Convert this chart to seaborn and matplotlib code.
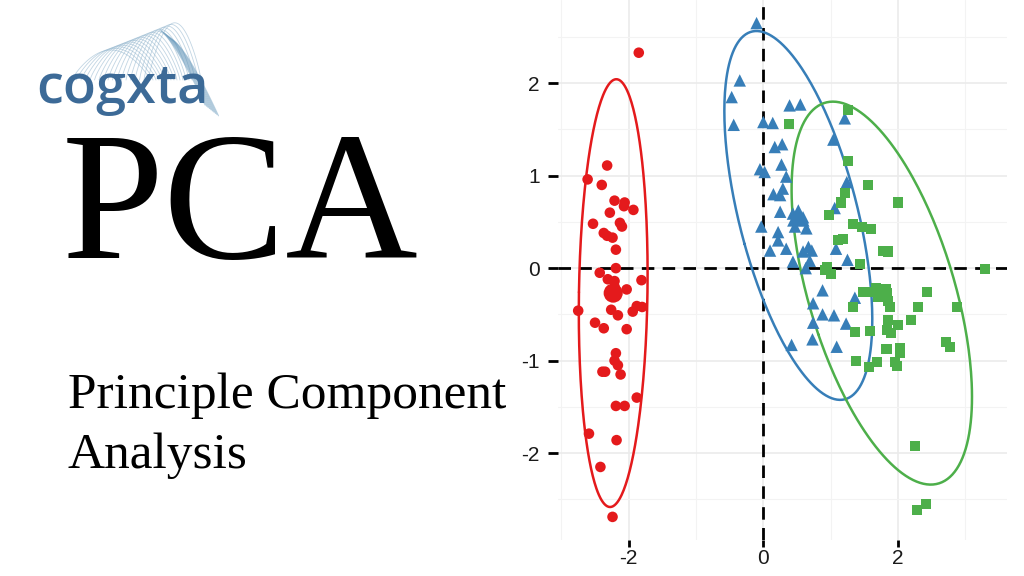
import numpy as np
import pandas as pd
import seaborn as sns
import matplotlib.pyplot as plt

# individuals on the first two principal components
red_x = [-1.85, -2.32, -2.61, -2.40, -2.21, -2.06, -2.07, -1.93, -2.28, -2.53,
         -2.13, -2.10, -2.37, -2.32, -2.24, -2.19, -2.19, -2.43, -1.81, -2.31,
         -2.21, -2.21, -2.03, -2.26, -2.20, -2.75, -2.26, -2.16, -1.94, -1.88,
         -1.80, -2.50, -2.37, -2.03, -2.19, -2.21, -2.16, -2.39, -2.35, -2.12,
         -1.88, -2.19, -2.06, -2.59, -2.18, -2.42, -2.24]
red_y = [2.33, 1.11, 0.96, 0.90, 0.73, 0.71, 0.67, 0.63, 0.60, 0.48,
         0.49, 0.45, 0.38, 0.35, 0.33, 0.20, 0.00, -0.05, -0.13, -0.12,
         -0.14, -0.20, -0.23, -0.27, -0.25, -0.46, -0.45, -0.51, -0.47, -0.41,
         -0.42, -0.59, -0.65, -0.66, -0.92, -1.00, -1.05, -1.12, -1.12, -1.15,
         -1.40, -1.49, -1.49, -1.79, -1.86, -2.15, -2.69]

blue_x = [-0.10, -0.35, -0.47, -0.44, 0.00, 0.14, 0.39, 0.55, 1.21, 1.04,
          0.17, 0.28, 0.27, -0.05, 0.02, 0.34, 1.24, 0.15, 0.25, 0.29,
          0.25, 0.44, 0.59, 0.54, 0.47, 0.64, 1.06, -0.03, 0.22, 0.22,
          0.10, 0.34, 0.59, 0.67, 0.72, 1.08, 0.44, 0.69, 0.63, 1.25,
          0.88, 0.74, 1.36, 0.88, 1.05, 0.74, 1.23, 0.73, 0.42, 1.09]
blue_y = [2.65, 2.03, 1.85, 1.55, 1.58, 1.57, 1.76, 1.77, 1.62, 1.39,
          1.31, 1.34, 1.12, 1.07, 1.04, 0.99, 0.93, 0.80, 0.79, 0.86,
          0.61, 0.59, 0.55, 0.52, 0.45, 0.43, 0.65, 0.45, 0.39, 0.30,
          0.19, 0.21, 0.18, 0.23, 0.19, 0.21, 0.07, 0.08, 0.00, 0.09,
          -0.24, -0.38, -0.32, -0.50, -0.51, -0.59, -0.60, -0.77, -0.83, -0.85]

green_x = [1.26, 0.38, 1.26, 1.56, 1.21, 1.16, 2.00, 0.98, 1.33, 1.46,
           1.60, 1.11, 1.18, 1.78, 1.85, 1.43, 0.95, 1.01, 0.91, 3.29,
           1.48, 1.61, 1.68, 1.83, 1.73, 1.85, 1.88, 2.43, 1.33, 2.30,
           2.88, 1.85, 2.00, 2.20, 1.36, 1.58, 1.84, 1.89, 2.72, 2.78,
           1.83, 2.03, 2.03, 1.37, 1.69, 1.57, 1.95, 1.98, 2.25, 2.29, 2.42]
green_y = [1.71, 1.56, 1.16, 0.90, 0.81, 0.71, 0.71, 0.57, 0.48, 0.44,
           0.42, 0.30, 0.32, 0.19, 0.18, 0.04, 0.01, -0.06, -0.02, -0.01,
           -0.26, -0.26, -0.22, -0.27, -0.31, -0.36, -0.42, -0.26, -0.42, -0.42,
           -0.42, -0.56, -0.61, -0.56, -0.69, -0.68, -0.67, -0.70, -0.80, -0.85,
           -0.87, -0.86, -0.92, -1.00, -1.01, -1.07, -1.01, -1.06, -1.92, -2.62, -2.55]

# group centres (the large markers)
groups = ['1', '2', '3']
mean_x = [-2.23, 0.52, 1.76]
mean_y = [-0.27, 0.57, -0.27]

palette = {'1': '#E41A1C', '2': '#377EB8', '3': '#4DAF4A'}
markers = {'1': 'o', '2': '^', '3': 's'}
point_sizes = {'1': 58, '2': 80, '3': 52}
centre_sizes = {'1': 190, '2': 260, '3': 170}

df = pd.DataFrame({
    'Dim1': red_x + blue_x + green_x,
    'Dim2': red_y + blue_y + green_y,
    'group': ['1'] * len(red_x) + ['2'] * len(blue_x) + ['3'] * len(green_x),
})
centres = pd.DataFrame({'Dim1': mean_x, 'Dim2': mean_y, 'group': groups})

sns.set_theme(style='white')
plt.rcParams['font.family'] = ['Liberation Sans', 'DejaVu Sans']
plt.rcParams['axes.unicode_minus'] = False

fig = plt.figure(figsize=(10.24, 5.76), dpi=100)

# ---- left side: logo and title ----
deco = fig.add_axes([0, 0, 1, 1])
deco.set_xlim(0, 1024)
deco.set_ylim(576, 0)
deco.axis('off')
t = np.linspace(0, 1, 60)
for k in range(18):
    x0 = 72 + k * 4.5
    x1 = 150 + k * 3.0
    h = 30 + k * 1.6
    xs = x0 + (x1 - x0) * t
    ys = 80 - h * np.sin(np.pi * t) ** 0.8
    deco.plot(xs, ys, color='#8fb3cc', lw=0.6, alpha=0.55)
for k in range(10):
    xs = 160 + k * 1.5 + 45 * t
    ys = 30 + k * 1.2 + 75 * t ** 1.3
    deco.plot(xs, ys, color='#6a9bbd', lw=0.8, alpha=0.45)
fig.text(36 / 1024, 1 - 103 / 576, 'cogxta', fontsize=39, color='#3c6a97',
         family=['Open Sans', 'DejaVu Sans'], weight='semibold',
         va='baseline', ha='left')
fig.text(62 / 1024, 1 - 258 / 576, 'PCA', fontsize=132, color='black',
         family=['Liberation Serif', 'DejaVu Serif'], va='baseline', ha='left')
fig.text(68 / 1024, 1 - 408 / 576, 'Principle Component', fontsize=37,
         color='black', family=['Liberation Serif', 'DejaVu Serif'],
         va='baseline', ha='left')
fig.text(68 / 1024, 1 - 468 / 576, 'Analysis', fontsize=37, color='black',
         family=['Liberation Serif', 'DejaVu Serif'], va='baseline', ha='left')

# ---- right side: individuals plot ----
ax = fig.add_axes([558 / 1024, 36 / 576, 449 / 1024, 540 / 576])

sns.scatterplot(data=df, x='Dim1', y='Dim2', hue='group', style='group',
                size='group', sizes=point_sizes, palette=palette,
                markers=markers, linewidth=0, legend=False, ax=ax, zorder=3)
sns.scatterplot(data=centres, x='Dim1', y='Dim2', hue='group', style='group',
                size='group', sizes=centre_sizes, palette=palette,
                markers=markers, linewidth=0, legend=False, ax=ax, zorder=3)

# 95% concentration ellipses
theta = np.linspace(0, 2 * np.pi, 300)
circle = np.vstack([np.cos(theta), np.sin(theta)])
for g, cx, cy in zip(groups, mean_x, mean_y):
    sub = df[df['group'] == g]
    cov = np.cov(sub['Dim1'], sub['Dim2'])
    vals, vecs = np.linalg.eigh(cov)
    pts = vecs @ (np.sqrt(vals)[:, None] * circle) * 2.42
    ax.plot(pts[0] + cx, pts[1] + cy, color=palette[g], lw=1.8, zorder=2)

ax.axhline(0, color='black', ls=(0, (4.5, 3)), lw=2, zorder=1)
ax.axvline(0, color='black', ls=(0, (4.5, 3)), lw=2, zorder=1)

ax.set_xlim(-3.05, 3.62)
ax.set_ylim(-2.94, 2.90)
ax.set_xticks([-2, 0, 2])
ax.set_xticks([-3, -1, 1, 3], minor=True)
ax.set_yticks([-2, -1, 0, 1, 2])
ax.set_yticks([-2.5, -1.5, -0.5, 0.5, 1.5, 2.5], minor=True)
ax.grid(True, which='major', color='#ebebeb', lw=1.2, zorder=0)
ax.grid(True, which='minor', color='#f3f3f3', lw=0.8, zorder=0)
ax.set_axisbelow(True)
for s in ax.spines.values():
    s.set_visible(False)
ax.tick_params(which='major', width=2, color='black', labelsize=15,
               labelcolor='#1a1a1a', left=True, bottom=True)
ax.tick_params(axis='y', which='major', length=7, pad=6)
ax.tick_params(axis='x', which='major', length=5, pad=1.5)
ax.tick_params(which='minor', length=0)
ax.set_xlabel('')
ax.set_ylabel('')

fig.savefig('out.png', dpi=100)
